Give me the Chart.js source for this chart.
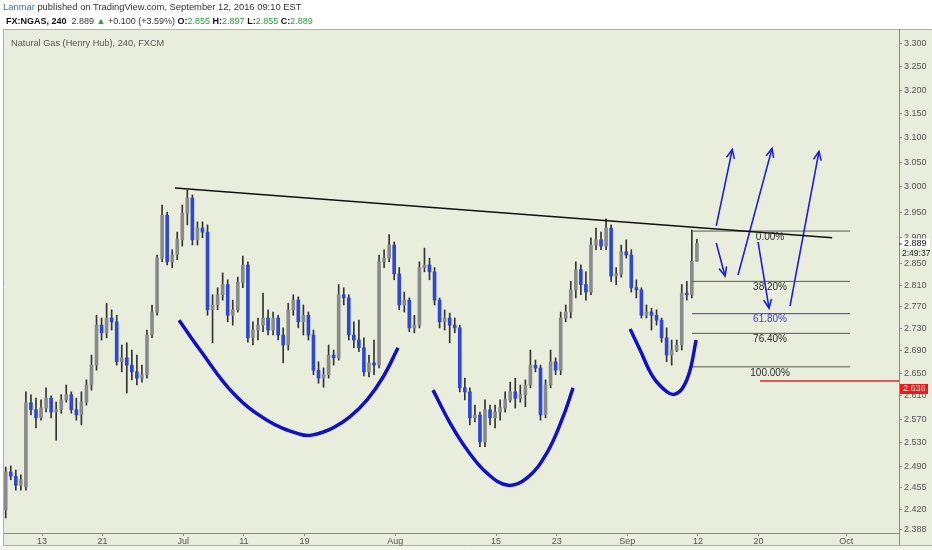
<!DOCTYPE html>
<html><head><meta charset="utf-8">
<script src="https://cdn.jsdelivr.net/npm/chart.js@4.4.1/dist/chart.umd.min.js"></script>
<style>
html,body{margin:0;padding:0;background:#fff;}
#wrap{position:relative;width:932px;height:550px;overflow:hidden;font-family:"Liberation Sans",Arial,sans-serif;}
#c{position:absolute;left:0;top:0;}
.t{position:absolute;white-space:nowrap;line-height:12px;}
#h1{left:3px;top:1px;font-size:9.4px;color:#333;}
#h1 .u{color:#2c7cc4;}
#h2{left:6px;top:15px;font-size:9px;color:#333;}
#h2 b{color:#111;}
#h2 .g{color:#2e9e3e;}
#title{left:11px;top:37px;font-size:9.2px;color:#555;}
</style></head>
<body><div id="wrap">
<canvas id="c" width="932" height="550"></canvas>
<div class="t" id="h1"><span class="u">Lanmar</span> published on TradingView.com, September 12, 2016 09:10 EST</div>
<div class="t" id="h2"><b>FX:NGAS, 240</b>&nbsp; 2.889 <span class="g">&#9650;</span> +0.100 (+3.59%) <b>O:</b><span class="g">2.855</span> <b>H:</b><span class="g">2.897</span> <b>L:</b><span class="g">2.855</span> <b>C:</b><span class="g">2.889</span></div>
<div class="t" id="title">Natural Gas (Henry Hub), 240, FXCM</div>
</div>
<script>
// ---- time axis: trading-day index, 0 = Jun 13, 2016; two candles per trading day
const FIRST_DAY = -3.6, DAY_STEP = 0.5;
const xTickDays   = [0, 6, 14, 20, 26, 35, 45, 51, 58, 65, 71, 79.7];
const xTickLabels = ['13','21','Jul','11','19','Aug','15','23','Sep','12','20','Oct'];
const X_MIN = -3.77, X_MAX = 84.93;

// ---- price axis (log scale)
const priceTicks = [3.300,3.250,3.200,3.150,3.100,3.050,3.000,2.950,2.900,2.850,2.810,2.770,2.730,2.690,2.650,2.610,2.570,2.530,2.490,2.455,2.420,2.388];
const Y_MIN = 2.382, Y_MAX = 3.333;

// ---- candles
const openP = [2.419,2.481,2.474,2.459,2.456,2.598,2.586,2.572,2.589,2.606,
2.582,2.586,2.603,2.612,2.586,2.577,2.599,2.629,2.664,2.736,
2.722,2.749,2.742,2.670,2.677,2.664,2.652,2.641,2.647,2.718,
2.760,2.861,2.944,2.854,2.867,2.896,2.948,2.978,2.896,2.919,
2.911,2.764,2.773,2.792,2.811,2.754,2.764,2.815,2.848,2.713,
2.727,2.736,2.749,2.727,2.749,2.718,2.700,2.764,2.782,2.742,
2.754,2.718,2.655,2.641,2.647,2.682,2.677,2.792,2.786,2.718,
2.709,2.695,2.652,2.668,2.664,2.854,2.861,2.886,2.831,2.773,
2.782,2.731,2.736,2.843,2.848,2.835,2.782,2.742,2.749,2.736,
2.731,2.624,2.617,2.572,2.577,2.531,2.586,2.572,2.582,2.589,
2.603,2.617,2.606,2.612,2.629,2.664,2.659,2.577,2.629,2.670,
2.655,2.749,2.760,2.801,2.839,2.811,2.797,2.886,2.896,2.884,
2.919,2.827,2.831,2.873,2.867,2.805,2.801,2.754,2.760,2.754,
2.745,2.713,2.682,2.691,2.700,2.795,2.792,2.855];
const closeP = [2.481,2.474,2.459,2.468,2.598,2.586,2.572,2.589,2.606,2.582,
2.586,2.603,2.612,2.586,2.577,2.599,2.629,2.664,2.736,2.722,
2.749,2.742,2.670,2.677,2.664,2.652,2.641,2.647,2.718,2.760,
2.861,2.944,2.854,2.867,2.896,2.948,2.978,2.896,2.919,2.911,
2.764,2.773,2.792,2.811,2.754,2.764,2.815,2.848,2.713,2.727,
2.736,2.749,2.727,2.749,2.718,2.700,2.764,2.782,2.742,2.754,
2.718,2.655,2.641,2.647,2.682,2.677,2.792,2.786,2.718,2.709,
2.695,2.652,2.668,2.664,2.854,2.861,2.886,2.831,2.773,2.782,
2.731,2.736,2.843,2.848,2.835,2.782,2.742,2.749,2.736,2.731,
2.624,2.617,2.572,2.577,2.531,2.586,2.572,2.582,2.589,2.603,
2.617,2.606,2.612,2.629,2.664,2.659,2.577,2.629,2.670,2.655,
2.749,2.760,2.801,2.839,2.811,2.797,2.886,2.896,2.884,2.919,
2.827,2.831,2.873,2.867,2.805,2.801,2.754,2.760,2.754,2.745,
2.713,2.682,2.691,2.700,2.795,2.792,2.855,2.889];
const highP = [2.489,2.491,2.484,2.476,2.617,2.612,2.606,2.603,2.624,2.610,
2.599,2.612,2.629,2.617,2.606,2.617,2.638,2.682,2.754,2.749,
2.776,2.764,2.754,2.700,2.704,2.691,2.682,2.664,2.727,2.773,
2.867,2.964,2.950,2.877,2.911,2.964,2.994,2.984,2.931,2.931,
2.925,2.792,2.805,2.833,2.820,2.782,2.825,2.865,2.854,2.742,
2.749,2.795,2.764,2.760,2.754,2.731,2.776,2.792,2.788,2.773,
2.760,2.727,2.670,2.659,2.700,2.691,2.811,2.805,2.792,2.742,
2.745,2.713,2.682,2.709,2.867,2.877,2.906,2.892,2.843,2.797,
2.786,2.754,2.854,2.880,2.861,2.843,2.786,2.764,2.758,2.749,
2.736,2.641,2.624,2.594,2.582,2.603,2.594,2.594,2.603,2.617,
2.634,2.641,2.629,2.638,2.691,2.673,2.664,2.638,2.691,2.677,
2.760,2.773,2.817,2.854,2.848,2.835,2.900,2.919,2.911,2.937,
2.925,2.843,2.886,2.896,2.877,2.820,2.805,2.773,2.767,2.764,
2.749,2.731,2.709,2.709,2.811,2.817,2.915,2.897];
const lowP = [2.406,2.468,2.451,2.451,2.451,2.577,2.555,2.568,2.582,2.572,
2.534,2.580,2.599,2.580,2.568,2.560,2.594,2.620,2.655,2.709,
2.713,2.727,2.664,2.652,2.615,2.638,2.629,2.634,2.641,2.713,
2.754,2.854,2.848,2.843,2.858,2.884,2.925,2.886,2.886,2.900,
2.754,2.704,2.764,2.782,2.742,2.736,2.760,2.805,2.705,2.700,
2.709,2.724,2.718,2.718,2.709,2.668,2.691,2.754,2.731,2.718,
2.709,2.647,2.632,2.625,2.641,2.664,2.673,2.773,2.709,2.695,
2.688,2.645,2.643,2.647,2.659,2.843,2.854,2.820,2.764,2.760,
2.724,2.722,2.731,2.835,2.820,2.773,2.731,2.727,2.704,2.722,
2.617,2.603,2.560,2.565,2.523,2.523,2.560,2.555,2.568,2.582,
2.599,2.589,2.599,2.591,2.624,2.652,2.568,2.572,2.624,2.647,
2.647,2.742,2.749,2.786,2.792,2.782,2.792,2.877,2.877,2.877,
2.817,2.811,2.825,2.861,2.797,2.786,2.749,2.749,2.727,2.736,
2.705,2.670,2.664,2.688,2.691,2.782,2.786,2.855];

// ---- drawings (day index, price)
const trendDays = [13.18, 78.3], trendPrices = [2.998, 2.900];
const arc1Days = [13.58,15.66,18.93,22.30,25.57,26.86,28.84,30.53,32.21,33.80,35.28];
const arc1Prices = [2.745,2.691,2.615,2.568,2.544,2.543,2.555,2.574,2.603,2.643,2.695];
const arc2Days = [38.75,40.44,42.12,44.10,46.18,48.07,50.05,51.64,52.63];
const arc2Prices = [2.620,2.563,2.518,2.479,2.459,2.471,2.513,2.574,2.624];
const arc3Days = [58.28,59.27,60.56,61.94,62.74,63.53,64.22,64.82];
const arc3Prices = [2.729,2.691,2.643,2.617,2.613,2.625,2.655,2.709];
const arrowStartDays = [66.82,66.82,68.98,70.96,74.13];
const arrowStartPrices = [2.923,2.890,2.829,2.892,2.771];
const arrowEndDays = [68.41,67.69,72.35,72.05,77.0];
const arrowEndPrices = [3.076,2.827,3.078,2.767,3.072];
const fibLabels = ['0.00%','38.20%','61.80%','76.40%','100.00%'];
const fibPrices = [2.913,2.817,2.757,2.721,2.661];
const fibStartDay = 64.42, fibEndDay = 80.08, fibLabelDay = 72.15;
const stopPrice = 2.636, stopStartDay = 71.16;
const lastPrice = 2.889, countdown = '2:49:37';

// ---- build datasets
const dayOf = i => FIRST_DAY + DAY_STEP * i;
const UP = '#8a8a8a', DOWN = '#2d47d6';
const wickData = lowP.map((l, i) => ({x: dayOf(i), y: [l, highP[i]]}));
const bodyData = openP.map((o, i) => ({x: dayOf(i), y: [o, closeP[i]]}));
const bodyColors = openP.map((o, i) => closeP[i] >= o ? UP : DOWN);
const pts = (ds, ps) => ds.map((d, i) => ({x: d, y: ps[i]}));
const lineDs = (data, color, width, tension, order) => ({type: 'line', data, borderColor: color, borderWidth: width,
  pointRadius: 0, tension: tension, fill: false, order: order});

const datasets = [
  {type: 'bar', data: wickData, backgroundColor: '#333333', barThickness: 1, grouped: false, order: 5},
  {type: 'bar', data: bodyData, backgroundColor: bodyColors, barThickness: 3, grouped: false, order: 4},
  lineDs(pts(trendDays, trendPrices), '#111111', 1.5, 0, 1),
  lineDs(pts(arc1Days, arc1Prices), '#1010c8', 3.5, 0.4, 1),
  lineDs(pts(arc2Days, arc2Prices), '#1010c8', 3.5, 0.4, 1),
  lineDs(pts(arc3Days, arc3Prices), '#1010c8', 3.5, 0.4, 1),
  lineDs([{x: stopStartDay, y: stopPrice}, {x: X_MAX, y: stopPrice}], '#e82020', 1.5, 0, 2)
];
fibPrices.forEach((p, k) => datasets.push(lineDs([{x: fibStartDay, y: p}, {x: fibEndDay, y: p}],
  k === 2 ? '#3b3bd8' : '#555a50', 1, 0, 3)));
arrowStartDays.forEach((d, k) => datasets.push(lineDs([{x: d, y: arrowStartPrices[k]}, {x: arrowEndDays[k], y: arrowEndPrices[k]}],
  '#1b22d2', 1.6, 0, 1)));

const bgPlugin = {
  id: 'bg',
  beforeDraw(chart) {
    const ctx = chart.ctx;
    ctx.save();
    ctx.fillStyle = '#ffffff'; ctx.fillRect(0, 0, 932, 550);
    ctx.fillStyle = '#e8eedb'; ctx.fillRect(3, 29, 929, 516);
    ctx.fillStyle = '#f1f4ec'; ctx.fillRect(0, 546, 932, 4);
    ctx.strokeStyle = '#adb4a6'; ctx.lineWidth = 1;
    ctx.beginPath();
    ctx.moveTo(932, 29.5); ctx.lineTo(3.5, 29.5); ctx.lineTo(3.5, 545.5); ctx.lineTo(932, 545.5);
    ctx.stroke();
    ctx.restore();
  }
};

const overlayPlugin = {
  id: 'overlay',
  afterDatasetsDraw(chart) {
    const {ctx, scales: {x, y}} = chart;
    ctx.save();
    // arrowheads
    ctx.strokeStyle = '#1b22d2'; ctx.lineWidth = 1.6; ctx.lineCap = 'round';
    arrowStartDays.forEach((d, k) => {
      const x1 = x.getPixelForValue(d), y1 = y.getPixelForValue(arrowStartPrices[k]);
      const x2 = x.getPixelForValue(arrowEndDays[k]), y2 = y.getPixelForValue(arrowEndPrices[k]);
      const a = Math.atan2(y2 - y1, x2 - x1), L = 9, w = 0.42;
      ctx.beginPath();
      ctx.moveTo(x2 - L * Math.cos(a - w), y2 - L * Math.sin(a - w));
      ctx.lineTo(x2, y2);
      ctx.lineTo(x2 - L * Math.cos(a + w), y2 - L * Math.sin(a + w));
      ctx.stroke();
    });
    // fib labels
    ctx.font = '10px "Liberation Sans", Arial, sans-serif';
    ctx.textAlign = 'center'; ctx.textBaseline = 'middle';
    fibPrices.forEach((p, k) => {
      ctx.fillStyle = k === 2 ? '#3b3bd8' : '#2a2a2a';
      ctx.fillText(fibLabels[k], x.getPixelForValue(fibLabelDay), y.getPixelForValue(p) + 6);
    });
    ctx.restore();
  },
  afterDraw(chart) {
    const {ctx, scales: {y}, chartArea} = chart;
    const ax = chartArea.right;
    ctx.save();
    ctx.strokeStyle = '#868d80'; ctx.lineWidth = 1;
    ctx.beginPath(); ctx.moveTo(ax + 0.5, chartArea.bottom); ctx.lineTo(ax + 0.5, 545); ctx.stroke();
    ctx.font = '9px "Liberation Sans", Arial, sans-serif';
    ctx.textBaseline = 'middle'; ctx.textAlign = 'left';
    // last price label
    const ly = y.getPixelForValue(lastPrice);
    ctx.fillStyle = '#ffffff'; ctx.fillRect(ax + 1, ly - 5, 30, 10);
    ctx.fillStyle = '#1a1a1a'; ctx.fillText(lastPrice.toFixed(3), ax + 5, ly);
    ctx.strokeStyle = '#333'; ctx.beginPath(); ctx.moveTo(ax, ly + 0.5); ctx.lineTo(ax + 3, ly + 0.5); ctx.stroke();
    ctx.font = '8.5px "Liberation Sans", Arial, sans-serif';
    ctx.fillStyle = '#1a1a1a'; ctx.fillText(countdown, ax + 3, ly + 10);
    // stop price label
    const sy = y.getPixelForValue(stopPrice) + 8;
    ctx.fillStyle = '#f01818'; ctx.fillRect(ax + 1, sy - 5, 28, 10);
    ctx.font = '9px "Liberation Sans", Arial, sans-serif';
    ctx.fillStyle = '#ffffff'; ctx.fillText(stopPrice.toFixed(3), ax + 4, sy);
    ctx.restore();
  }
};

new Chart(document.getElementById('c'), {
  type: 'bar',
  data: {datasets},
  plugins: [bgPlugin, overlayPlugin],
  options: {
    responsive: false, animation: false, devicePixelRatio: 1,
    layout: {padding: {left: 4, top: 29, right: 0, bottom: 0}, autoPadding: false},
    plugins: {legend: {display: false}, tooltip: {enabled: false}},
    scales: {
      x: {
        type: 'linear', min: X_MIN, max: X_MAX, offset: false,
        afterBuildTicks: s => { s.ticks = xTickDays.map(v => ({value: v})); },
        afterFit: s => { s.height = 17; },
        ticks: {autoSkip: false, maxRotation: 0, padding: 0, color: '#555', font: {size: 9, family: '"Liberation Sans", Arial, sans-serif'},
          callback: (v, i) => xTickLabels[i]},
        grid: {drawOnChartArea: false, offset: false, tickLength: 3, color: '#868d80'},
        border: {display: true, color: '#868d80'}
      },
      y: {
        type: 'logarithmic', position: 'right', min: Y_MIN, max: Y_MAX,
        afterBuildTicks: s => { s.ticks = priceTicks.map(v => ({value: v})); },
        afterFit: s => { s.width = 33; },
        ticks: {autoSkip: false, padding: 2, color: '#555', font: {size: 9, family: '"Liberation Sans", Arial, sans-serif'},
          callback: v => Number(v).toFixed(3)},
        grid: {drawOnChartArea: false, tickLength: 3, color: '#868d80'},
        border: {display: true, color: '#868d80'}
      }
    }
  }
});
</script>
</body></html>
